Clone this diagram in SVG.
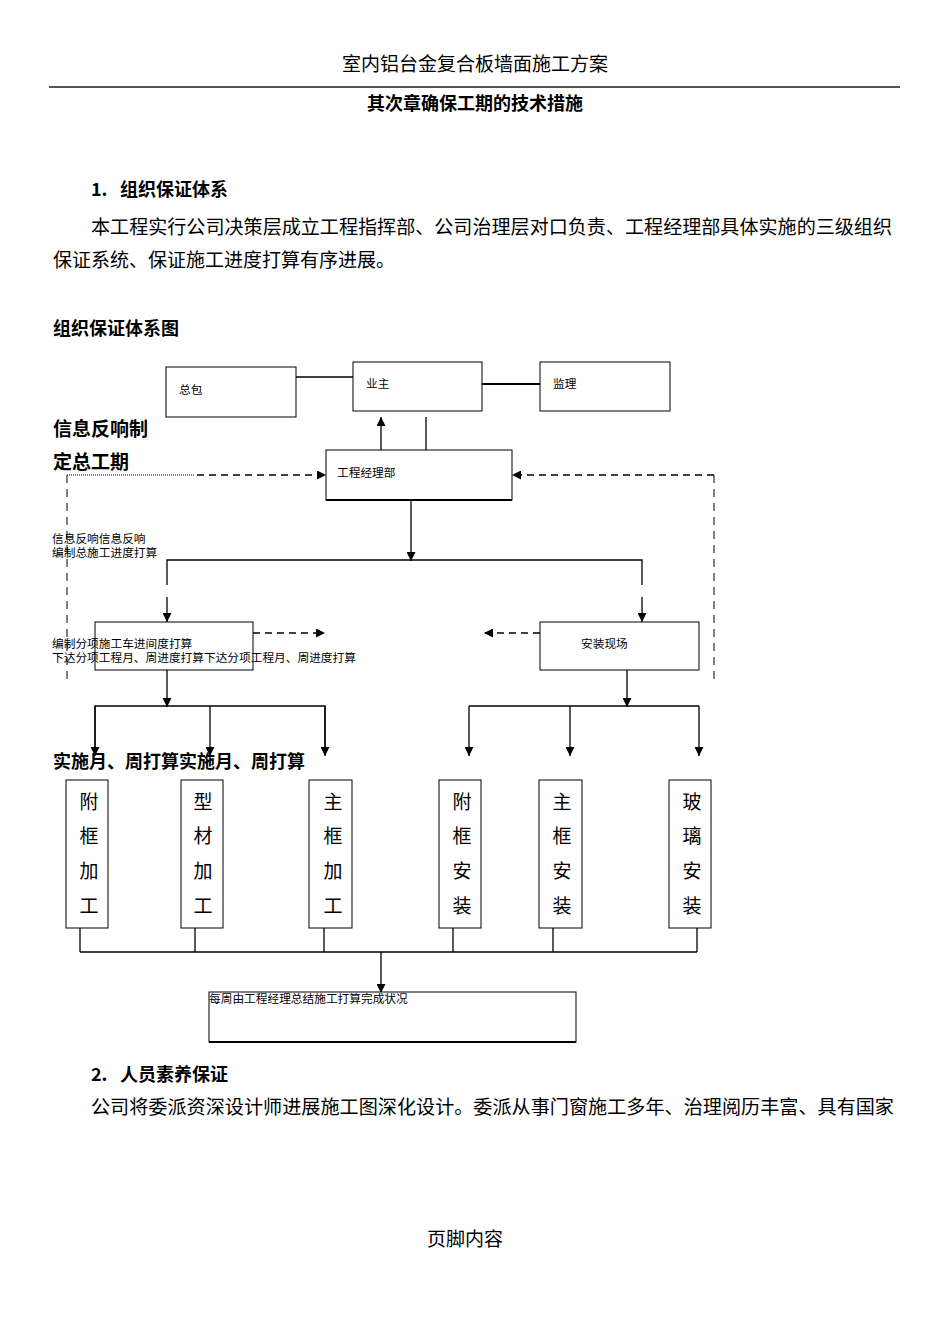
<svg xmlns="http://www.w3.org/2000/svg" width="950" height="1344" viewBox="0 0 950 1344">
<style>
text{font-family:"Noto Sans CJK SC","Noto Sans",sans-serif;fill:#000}
.h{font-size:19px}
.b{font-weight:bold;font-size:18px}
.s{font-size:11.7px}
.v{font-size:19px;text-anchor:middle}
.box{fill:#fff;stroke:#000;stroke-width:1}
.ln{stroke:#000;stroke-width:1.3;fill:none}
.ds{stroke:#000;stroke-width:1.5;fill:none;stroke-dasharray:7 5}
.dt{stroke:#000;stroke-width:1;fill:none;stroke-dasharray:1 1}
.dv{stroke:#000;stroke-width:1;fill:none;stroke-dasharray:8 6}
</style>
<defs>
<marker id="a" viewBox="0 0 10 10" refX="10" refY="5" markerWidth="9" markerHeight="9" markerUnits="userSpaceOnUse" orient="auto">
<path d="M0,0L10,5L0,10z" fill="#000"/>
</marker>
</defs>
<rect width="950" height="1344" fill="#fff"/>
<g id="page-text">
<text class="h" x="475" y="71" text-anchor="middle" fill="#222">室内铝台金复合板墙面施工方案</text>
<line x1="49" y1="87" x2="900" y2="87" stroke="#555" stroke-width="2"/>
<text class="b" x="475" y="110" text-anchor="middle">其次章确保工期的技术措施</text>
<text class="b" x="91" y="196">1.</text><text class="b" x="120" y="196">组织保证体系</text>
<text class="h" x="91" y="234" textLength="801" lengthAdjust="spacingAndGlyphs">本工程实行公司决策层成立工程指挥部、公司治理层对口负责、工程经理部具体实施的三级组织</text>
<text class="h" x="53" y="267">保证系统、保证施工进度打算有序进展。</text>
<text class="b" x="53" y="335">组织保证体系图</text>
<text class="h" x="53" y="436" font-weight="bold">信息反响制</text>
<text class="h" x="53" y="469" font-weight="bold">定总工期</text>
<text class="s" x="52" y="543">信息反响信息反响</text>
<text class="s" x="52" y="557">编制总施工进度打算</text>
<text class="b" x="53" y="768">实施月、周打算实施月、周打算</text>
<text class="b" x="91" y="1081">2.</text><text class="b" x="120" y="1081">人员素养保证</text>
<text class="h" x="91" y="1114" textLength="803" lengthAdjust="spacingAndGlyphs">公司将委派资深设计师进展施工图深化设计。委派从事门窗施工多年、治理阅历丰富、具有国家</text>
<text class="h" x="465" y="1246" text-anchor="middle">页脚内容</text>
</g>
<g id="connectors">
<line class="ln" x1="296" y1="377" x2="353" y2="377"/>
<line x1="482" y1="384" x2="540" y2="384" stroke="#000" stroke-width="2"/>
<line class="ln" x1="381" y1="450" x2="381" y2="417" marker-end="url(#a)"/>
<line class="ln" x1="426" y1="417" x2="426" y2="450"/>
<line class="dt" x1="67" y1="475" x2="195" y2="475"/>
<line class="ds" x1="197" y1="475" x2="326" y2="475" marker-end="url(#a)"/>
<line class="dv" x1="67" y1="475" x2="67" y2="682"/>
<line class="ds" x1="714" y1="475" x2="512" y2="475" marker-end="url(#a)"/>
<line class="dv" x1="714" y1="475" x2="714" y2="682"/>
<line class="ln" x1="411" y1="500" x2="411" y2="561" marker-end="url(#a)"/>
<polyline class="ln" points="167,585 167,560 642,560 642,585"/>
<line class="ln" x1="167" y1="597" x2="167" y2="622" marker-end="url(#a)"/>
<line class="ln" x1="642" y1="597" x2="642" y2="622" marker-end="url(#a)"/>
<line class="ds" x1="253" y1="633" x2="325" y2="633" marker-end="url(#a)"/>
<line class="ds" x1="540" y1="633" x2="484" y2="633" marker-end="url(#a)"/>
<line class="ln" x1="167" y1="670" x2="167" y2="707" marker-end="url(#a)"/>
<polyline class="ln" points="95,755 95,706 325,706 325,755"/>
<line class="ln" x1="95" y1="706" x2="95" y2="756" marker-end="url(#a)"/>
<line class="ln" x1="210" y1="706" x2="210" y2="756" marker-end="url(#a)"/>
<line class="ln" x1="325" y1="706" x2="325" y2="756" marker-end="url(#a)"/>
<line class="ln" x1="627" y1="670" x2="627" y2="707" marker-end="url(#a)"/>
<line class="ln" x1="469" y1="706" x2="699" y2="706"/>
<line class="ln" x1="469" y1="706" x2="469" y2="756" marker-end="url(#a)"/>
<line class="ln" x1="570" y1="706" x2="570" y2="756" marker-end="url(#a)"/>
<line class="ln" x1="699" y1="706" x2="699" y2="756" marker-end="url(#a)"/>
<line class="ln" x1="80" y1="928" x2="80" y2="952"/>
<line class="ln" x1="195" y1="928" x2="195" y2="952"/>
<line class="ln" x1="324" y1="928" x2="324" y2="952"/>
<line class="ln" x1="453" y1="928" x2="453" y2="952"/>
<line class="ln" x1="553" y1="928" x2="553" y2="952"/>
<line class="ln" x1="697" y1="928" x2="697" y2="952"/>
<line class="ln" x1="80" y1="952" x2="697" y2="952"/>
<line class="ln" x1="381" y1="952" x2="381" y2="993" marker-end="url(#a)"/>
</g>
<g id="n-zongbao"><rect class="box" x="166" y="367" width="130" height="50"/><text class="s" x="179" y="394">总包</text></g>
<g id="n-yezhu"><rect class="box" x="353" y="362" width="129" height="49"/><text class="s" x="366" y="388">业主</text></g>
<g id="n-jianli"><rect class="box" x="540" y="362" width="130" height="49"/><text class="s" x="553" y="388">监理</text></g>
<g id="n-xmjlb"><rect class="box" x="326" y="450" width="186" height="50"/><line x1="326" y1="500" x2="512" y2="500" stroke="#000" stroke-width="2"/><text class="s" x="337" y="477">工程经理部</text></g>
<g id="n-fenxiang"><rect class="box" x="95" y="622" width="158" height="48"/><text class="s" x="52" y="648">编制分项施工车进间度打算</text><text class="s" x="52" y="662">下达分项工程月、周进度打算下达分项工程月、周进度打算</text></g>
<g id="n-anzhuang"><rect class="box" x="540" y="622" width="159" height="48"/><text class="s" x="581" y="648">安装现场</text></g>
<g id="n-v1"><rect class="box" x="66" y="780" width="42" height="148"/><text class="v" x="89" y="809">附</text><text class="v" x="89" y="843">框</text><text class="v" x="89" y="878">加</text><text class="v" x="89" y="913">工</text></g>
<g id="n-v2"><rect class="box" x="181" y="780" width="42" height="148"/><text class="v" x="203" y="809">型</text><text class="v" x="203" y="843">材</text><text class="v" x="203" y="878">加</text><text class="v" x="203" y="913">工</text></g>
<g id="n-v3"><rect class="box" x="309" y="780" width="43" height="148"/><text class="v" x="333" y="809">主</text><text class="v" x="333" y="843">框</text><text class="v" x="333" y="878">加</text><text class="v" x="333" y="913">工</text></g>
<g id="n-v4"><rect class="box" x="439" y="780" width="42" height="148"/><text class="v" x="462" y="809">附</text><text class="v" x="462" y="843">框</text><text class="v" x="462" y="878">安</text><text class="v" x="462" y="913">装</text></g>
<g id="n-v5"><rect class="box" x="539" y="780" width="43" height="148"/><text class="v" x="562" y="809">主</text><text class="v" x="562" y="843">框</text><text class="v" x="562" y="878">安</text><text class="v" x="562" y="913">装</text></g>
<g id="n-v6"><rect class="box" x="669" y="780" width="42" height="148"/><text class="v" x="692" y="809">玻</text><text class="v" x="692" y="843">璃</text><text class="v" x="692" y="878">安</text><text class="v" x="692" y="913">装</text></g>
<g id="n-meizhou"><rect class="box" x="209" y="992" width="367" height="50"/><line x1="209" y1="1042" x2="576" y2="1042" stroke="#000" stroke-width="2"/><text class="s" x="209" y="1003">每周由工程经理总结施工打算完成状况</text></g>
</svg>
